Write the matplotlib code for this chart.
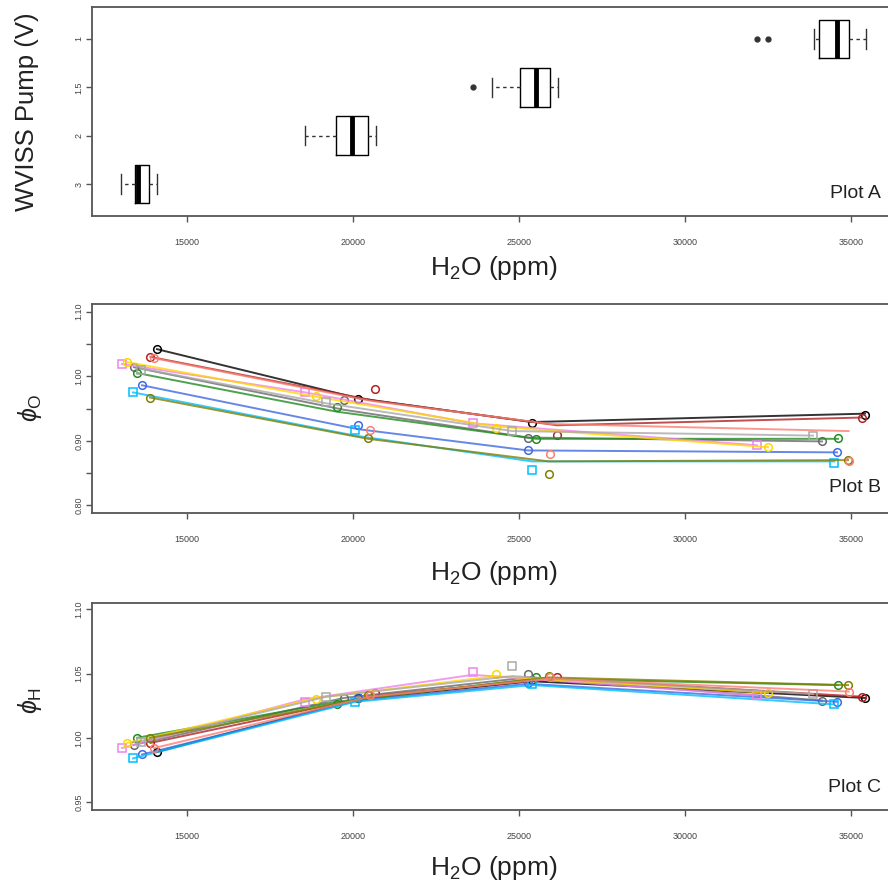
import matplotlib
matplotlib.use('Agg')
import matplotlib.pyplot as plt

plt.rcParams['font.family'] = ['Liberation Sans', 'DejaVu Sans']
plt.rcParams['mathtext.fontset'] = 'custom'
plt.rcParams['mathtext.rm'] = 'Liberation Sans'
plt.rcParams['mathtext.it'] = 'Liberation Sans:italic'

# Plot A: boxplot summary of H2O per pump voltage
pump_labels = ['3', '2', '1.5', '1']
box_whislo = [13000, 18542, 24172, 33894]
box_q1 = [13434, 19482, 25024, 34030]
box_med = [13512, 19958, 25503, 34578]
box_q3 = [13855, 20452, 25945, 34934]
box_whishi = [14096, 20693, 26183, 35446]
box_fliers = [[], [], [23627], [32170, 32512]]

# Plots B and C: one series per run, 4 pump settings each
series_colors = ['black', 'firebrick', 'dimgray', 'forestgreen', 'royalblue',
                 'deepskyblue', 'violet', 'gold', 'darkgray', 'olive', 'salmon']
series_markers = ['o', 'o', 'o', 'o', 'o', 's', 's', 'o', 's', 'o', 'o']
series_x = [
    [14096, 20150, 25380, 35420],
    [13900, 20663, 26144, 35330],
    [13400, 19729, 25270, 34126],
    [13494, 19518, 25510, 34607],
    [13645, 20150, 25270, 34578],
    [13373, 20060, 25390, 34500],
    [13042, 18554, 23600, 32170],
    [13200, 18900, 24300, 32500],
    [13600, 19200, 24800, 33855],
    [13886, 20450, 25900, 34910],
    [14006, 20510, 25945, 34930],
]
# measured points
phi_O = [
    [1.042, 0.965, 0.928, 0.940],
    [1.030, 0.980, 0.909, 0.935],
    [1.014, 0.963, 0.904, 0.899],
    [1.005, 0.952, 0.903, 0.905],
    [0.986, 0.925, 0.885, 0.882],
    [0.975, 0.916, 0.854, 0.866],
    [1.019, 0.975, 0.927, 0.893],
    [1.022, 0.970, 0.920, 0.890],
    [1.010, 0.960, 0.915, 0.908],
    [0.967, 0.905, 0.848, 0.870],
    [1.028, 0.916, 0.880, 0.868],
]
# fitted curves drawn as lines
phi_O_fit = [
    [1.042, 0.966, 0.929, 0.942],
    [1.030, 0.962, 0.924, 0.936],
    [1.014, 0.948, 0.905, 0.899],
    [1.005, 0.945, 0.903, 0.903],
    [0.986, 0.918, 0.885, 0.882],
    [0.975, 0.908, 0.868, 0.868],
    [1.019, 0.975, 0.927, 0.893],
    [1.022, 0.968, 0.922, 0.890],
    [1.012, 0.958, 0.915, 0.908],
    [0.967, 0.903, 0.868, 0.870],
    [1.028, 0.962, 0.926, 0.915],
]
phi_H = [
    [0.989, 1.031, 1.045, 1.031],
    [0.996, 1.035, 1.047, 1.032],
    [0.9945, 1.031, 1.050, 1.029],
    [1.000, 1.026, 1.047, 1.041],
    [0.987, 1.032, 1.043, 1.028],
    [0.984, 1.028, 1.042, 1.026],
    [0.992, 1.028, 1.051, 1.033],
    [0.996, 1.030, 1.050, 1.035],
    [0.997, 1.032, 1.056, 1.034],
    [1.000, 1.033, 1.048, 1.041],
    [0.992, 1.033, 1.047, 1.036],
]
phi_H_fit = [
    [0.989, 1.030, 1.044, 1.031],
    [0.996, 1.033, 1.046, 1.032],
    [0.9945, 1.031, 1.047, 1.029],
    [1.000, 1.028, 1.046, 1.041],
    [0.987, 1.029, 1.042, 1.028],
    [0.984, 1.028, 1.041, 1.026],
    [0.992, 1.030, 1.049, 1.033],
    [0.996, 1.031, 1.048, 1.035],
    [0.997, 1.032, 1.048, 1.034],
    [1.000, 1.031, 1.047, 1.041],
    [0.992, 1.032, 1.046, 1.036],
]

xlim = (12139, 36325)
xticks = [15000, 20000, 25000, 30000, 35000]

fig = plt.figure(figsize=(8.88, 8.86), dpi=100)
W, H = 888.0, 886.0


def make_ax(top, bottom):
    return fig.add_axes([92 / W, 1 - bottom / H, 803 / W, (bottom - top) / H])


def style_ax(ax):
    for s in ax.spines.values():
        s.set_color('#555555')
        s.set_linewidth(1.3)
    ax.set_xlim(*xlim)
    ax.set_xticks(xticks)
    ax.set_xticklabels([str(t) for t in xticks])
    ax.tick_params(axis='x', length=4, width=1, color='#555555', pad=12,
                   labelsize=6.5, labelcolor='#444444')
    ax.tick_params(axis='y', length=4, width=1, color='#555555', pad=2,
                   labelsize=6.5, labelcolor='#444444')


def draw_series(ax, pts, fits):
    for c, m, xs, ys, fs in zip(series_colors, series_markers, series_x, pts, fits):
        ax.plot(xs, fs, color=c, linewidth=1.4, alpha=0.8)
        ax.plot(xs, ys, linestyle='none', marker=m, markersize=5.5,
                markerfacecolor='none', markeredgecolor=c, markeredgewidth=1.1)


def panel_tag(ax, text, y):
    # keep the tag inside the visible part of the (cropped) panel
    ax.text(0.982, y, text, transform=ax.transAxes, ha='right',
            va='center', fontsize=14, color='#222222')


# ---- Plot A ----
axA = make_ax(7, 216)
stats = []
for i in range(4):
    stats.append(dict(whislo=box_whislo[i], q1=box_q1[i], med=box_med[i],
                      q3=box_q3[i], whishi=box_whishi[i], fliers=box_fliers[i]))
axA.bxp(stats, positions=[1, 2, 3, 4], widths=0.8, orientation='horizontal',
        capwidths=0.4,
        boxprops=dict(color='black', linewidth=1),
        medianprops=dict(color='black', linewidth=3.5, solid_capstyle='butt'),
        whiskerprops=dict(color='#333333', linestyle=(0, (2.5, 2.5)), linewidth=1),
        capprops=dict(color='#333333', linewidth=1),
        flierprops=dict(marker='o', markersize=3.5, markerfacecolor='#333333',
                        markeredgecolor='#333333'))
axA.set_ylim(0.34, 4.66)
style_ax(axA)
axA.set_yticks([1, 2, 3, 4])
axA.set_yticklabels(pump_labels, rotation=90, va='center')
panel_tag(axA, 'Plot A', 0.11)

# ---- Plot B ----
axB = make_ax(304, 513)
draw_series(axB, phi_O, phi_O_fit)
axB.set_ylim(0.788, 1.112)
style_ax(axB)
yB = [0.80, 0.85, 0.90, 0.95, 1.00, 1.05, 1.10]
axB.set_yticks(yB)
axB.set_yticklabels(['0.80', '', '0.90', '', '1.00', '', '1.10'],
                    rotation=90, va='center')
panel_tag(axB, 'Plot B', 0.12)

# ---- Plot C ----
axC = make_ax(603, 810)
draw_series(axC, phi_H, phi_H_fit)
axC.set_ylim(0.9438, 1.1049)
style_ax(axC)
yC = [0.95, 1.00, 1.05, 1.10]
axC.set_yticks(yC)
axC.set_yticklabels(['0.95', '1.00', '1.05', '1.10'], rotation=90, va='center')
panel_tag(axC, 'Plot C', 0.11)

# axis titles
fig.text(27 / W, 1 - 112 / H, 'WVISS Pump (V)', rotation=90, ha='center',
         va='center', fontsize=18.5, color='#222222')
fig.text(30 / W, 1 - 408 / H, r'$\phi_{\mathrm{O}}$', rotation=90, ha='center',
         va='center', fontsize=18, color='#222222')
fig.text(30 / W, 1 - 700 / H, r'$\phi_{\mathrm{H}}$', rotation=90, ha='center',
         va='center', fontsize=18, color='#222222')
for yc in [268, 573, 868]:
    fig.text(494 / W, 1 - yc / H, r'H$_2$O (ppm)', ha='center', va='center',
             fontsize=19, color='#222222')

fig.savefig('out.png', dpi=100)
